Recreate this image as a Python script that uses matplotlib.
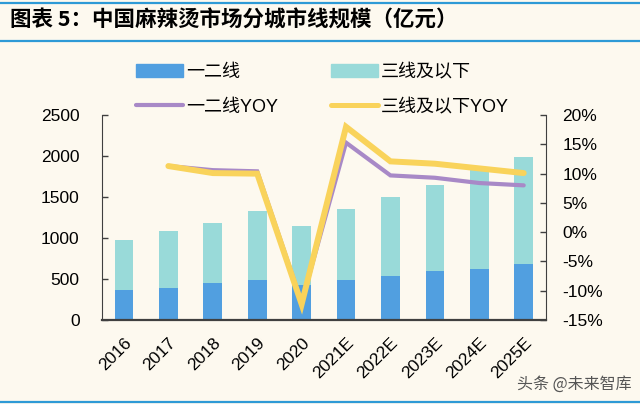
import matplotlib
matplotlib.use("Agg")
import matplotlib.pyplot as plt
from matplotlib.patches import Patch
from matplotlib.lines import Line2D
import numpy as np

plt.rcParams['font.family'] = ['Liberation Sans', 'Noto Sans CJK SC', 'DejaVu Sans']

years = ["2016", "2017", "2018", "2019", "2020", "2021E", "2022E", "2023E", "2024E", "2025E"]
tier12 = [362, 394, 455, 484, 427, 484, 540, 598, 626, 683]
total = [975, 1090, 1179, 1325, 1150, 1354, 1496, 1642, 1825, 1991]
tier3 = [t - a for t, a in zip(total, tier12)]
yoy12 = [None, 11.3, 10.6, 10.4, -12.0, 15.3, 9.7, 9.3, 8.4, 8.0]
yoy3 = [None, 11.3, 10.1, 10.0, -12.3, 18.0, 12.1, 11.7, 10.9, 10.1]

left_ticks = [0, 500, 1000, 1500, 2000, 2500]
left_labels = ["0", "500", "1000", "1500", "2000", "2500"]
right_ticks = [-15, -10, -5, 0, 5, 10, 15, 20]
right_labels = ["-15%", "-10%", "-5%", "0%", "5%", "10%", "15%", "20%"]

bg = "#FDF9EF"
c_blue = "#519FE0"
c_teal = "#99DAD9"
c_purple = "#A889C7"
c_yellow = "#F9D35B"
c_rule = "#2E9AD6"
c_spine = "#404040"
fs = 12.5

fig = plt.figure(figsize=(6.4, 4.04), dpi=100, facecolor=bg)
ax = fig.add_axes([0.159, 0.208, 0.694, 0.507])
ax.set_facecolor(bg)
x = np.arange(len(years))
w = 0.42
ax.bar(x, tier12, width=w, color=c_blue, zorder=2)
ax.bar(x, tier3, width=w, bottom=tier12, color=c_teal, zorder=2)
ax.set_xlim(-0.5, len(years) - 0.5)
ax.set_ylim(0, 2500)
ax.set_yticks(left_ticks)
ax.set_yticklabels(left_labels, fontsize=fs)
ax.set_xticks(x)
ax.set_xticklabels(years, rotation=45, ha='right', rotation_mode='anchor', fontsize=fs)
ax.tick_params(axis='x', length=0, pad=11)
ax.tick_params(axis='y', direction='in', length=4, width=1, color=c_spine, pad=16)
ax.spines['top'].set_visible(False)
ax.spines['right'].set_visible(False)
ax.spines['left'].set_color(c_spine)
ax.spines['bottom'].set_color(c_spine)
ax.spines['bottom'].set_linewidth(1.6)
ax.spines['bottom'].set_zorder(3)

ax2 = ax.twinx()
xs = x[1:]
ax2.plot(xs, yoy12[1:], color=c_purple, lw=3.0, solid_capstyle='round', solid_joinstyle='miter', zorder=3)
ax2.plot(xs, yoy3[1:], color=c_yellow, lw=4.3, solid_capstyle='round', solid_joinstyle='miter', zorder=4)
ax2.set_ylim(-15, 20)
ax2.set_yticks(right_ticks)
ax2.set_yticklabels(right_labels, fontsize=fs)
ax2.tick_params(axis='y', direction='in', length=4, width=1, color=c_spine, pad=12)
ax2.spines['top'].set_visible(False)
ax2.spines['left'].set_visible(False)
ax2.spines['bottom'].set_visible(False)
ax2.spines['right'].set_color(c_spine)

handles = [Patch(color=c_blue), Line2D([], [], color=c_purple, lw=3, solid_capstyle='round'),
           Patch(color=c_teal), Line2D([], [], color=c_yellow, lw=3.6, solid_capstyle='round')]
labels = ["一二线", "一二线YOY", "三线及以下", "三线及以下YOY"]
leg = fig.legend(handles, labels, ncol=2, loc='upper left', bbox_to_anchor=(0.213, 0.842),
                 frameon=False, handlelength=2.6, handleheight=0.75,
                 handletextpad=0.15, columnspacing=2.95, labelspacing=1.0, borderpad=0, borderaxespad=0,
                 prop={'family': ['Liberation Sans', 'Noto Sans CJK SC'], 'size': 13})

# title and rules
fig.add_artist(Line2D([0.0, 1.0], [1 - 2.5/404, 1 - 2.5/404], color=c_rule, lw=1.6))
fig.add_artist(Line2D([0.0, 1.0], [1 - 40.5/404, 1 - 40.5/404], color=c_rule, lw=1.6))
fig.add_artist(Line2D([0.0, 1.0], [1 - 402/404, 1 - 402/404], color=c_rule, lw=1.6))
fig.text(10/640, 1 - 20/404, "图表 5：中国麻辣烫市场分城市线规模（亿元）", fontsize=15.5, fontweight='bold',
         va='center', ha='left', family=['Noto Sans CJK SC', 'DejaVu Sans'])
fig.text(632/640, 1 - 384/404, "头条 @未来智库", fontsize=11.5, color='#555555', va='center', ha='right',
         family=['Noto Sans CJK SC', 'DejaVu Sans'])

fig.savefig("out.png", dpi=100, facecolor=bg)
